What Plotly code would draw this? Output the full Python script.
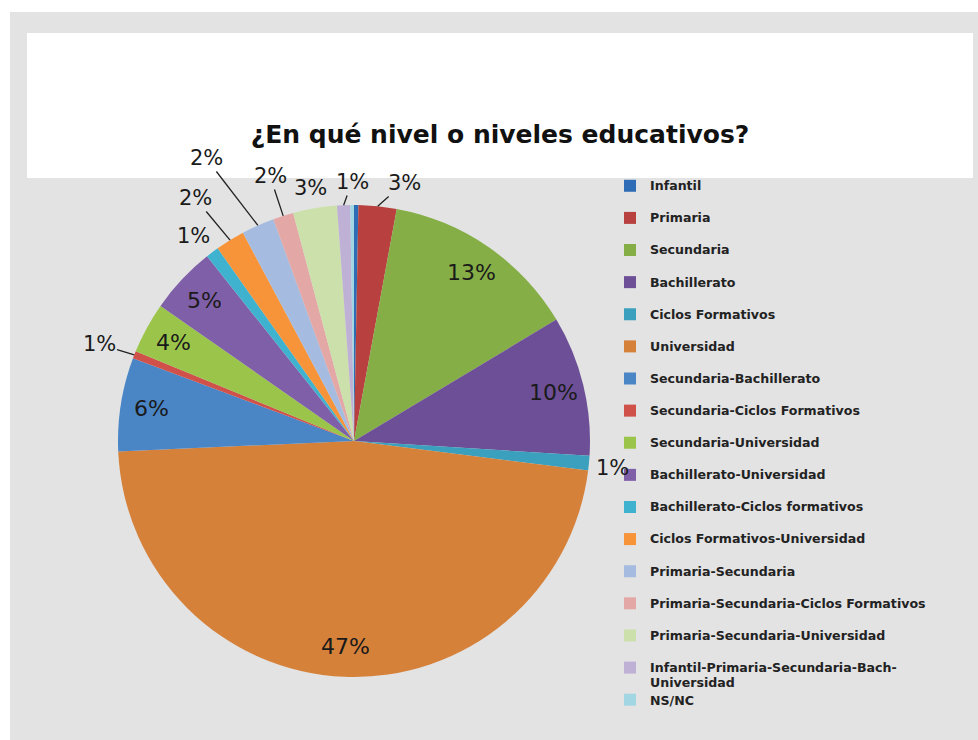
import math
import plotly.graph_objects as go

# ---------------- data ----------------
categories = [
    "Infantil", "Primaria", "Secundaria", "Bachillerato", "Ciclos Formativos",
    "Universidad", "Secundaria-Bachillerato", "Secundaria-Ciclos Formativos",
    "Secundaria-Universidad", "Bachillerato-Universidad",
    "Bachillerato-Ciclos formativos", "Ciclos Formativos-Universidad",
    "Primaria-Secundaria", "Primaria-Secundaria-Ciclos Formativos",
    "Primaria-Secundaria-Universidad",
    "Infantil-Primaria-Secundaria-Bach-Universidad", "NS/NC",
]
values = [0.3, 2.6, 13.5, 9.6, 1.0, 47.3, 6.4, 0.5, 3.5, 4.6, 0.9, 2.0,
          2.25, 1.4, 3.0, 0.9, 0.25]
pct_labels = ["", "3%", "13%", "10%", "1%", "47%", "6%", "1%", "4%", "5%",
              "1%", "2%", "2%", "2%", "3%", "1%", ""]
colors = ["#2E6DB5", "#B8413F", "#85AE46", "#6C4F96", "#3AA0BD", "#D5813A",
          "#4A85C6", "#D0504A", "#9BC54A", "#7F5FA8", "#3FB2D0", "#F7943A",
          "#A5BCE0", "#E3A8A6", "#CCE0AB", "#BFB0D6", "#A3D6E3"]
title_text = "¿En qué nivel o niveles educativos?"

# ---------------- layout constants ----------------
W, H = 978, 740
CX, CY, R = 354, 441, 236          # pie centre / radius in pixels
INSIDE_FRAC = 0.87
inside_set = {"Secundaria", "Bachillerato", "Universidad",
              "Secundaria-Bachillerato", "Secundaria-Universidad",
              "Bachillerato-Universidad"}
# where the outside labels sit (pixel centres) and whether they get a leader
outside_pos = {
    "Primaria": (404, 183, True),
    "Ciclos Formativos": (612, 468, False),
    "Secundaria-Ciclos Formativos": (99, 344, True),
    "Bachillerato-Ciclos formativos": (193, 236, False),
    "Ciclos Formativos-Universidad": (195, 198, True),
    "Primaria-Secundaria": (206, 158, True),
    "Primaria-Secundaria-Ciclos Formativos": (270, 176, True),
    "Primaria-Secundaria-Universidad": (310, 188, False),
    "Infantil-Primaria-Secundaria-Bach-Universidad": (352, 182, True),
}
LABEL_FONT = dict(family="DejaVu Sans", size=21, color="#1a1a1a")
INSIDE_FONT = dict(family="DejaVu Sans", size=22, color="#1a1a1a")


def legend_label(name):
    span = "<span style='font-size:12.6px'><b>%s</b></span>"
    if name == "NS/NC":
        return span % name
    if len(name) > 40:
        a, b = name.rsplit("-", 1)
        return span % (a + "-") + "<br>" + span % b
    return span % name + "<br> "


pie_labels = [legend_label(c) for c in categories]

fig = go.Figure(go.Pie(
    labels=pie_labels,
    values=values,
    textinfo="none",
    sort=False,
    direction="clockwise",
    rotation=0,
    marker=dict(colors=colors, line=dict(width=0)),
    domain=dict(x=[(CX - R) / W, (CX + R) / W],
                y=[1 - (CY + R) / H, 1 - (CY - R) / H]),
    hoverinfo="label+percent",
))

# ---------------- percentage labels, placed from the slice angles ----------
total = sum(values)
annotations = []
cum = 0.0
for cat, v, lab in zip(categories, values, pct_labels):
    mid = math.radians(360.0 * (cum + v / 2.0) / total)
    cum += v
    if not lab:
        continue
    if cat in inside_set:
        px_ = CX + INSIDE_FRAC * R * math.sin(mid)
        py_ = CY - INSIDE_FRAC * R * math.cos(mid)
        annotations.append(dict(
            x=px_ / W, y=1 - py_ / H, xref="paper", yref="paper",
            xanchor="center", yanchor="middle",
            text=lab, showarrow=False, font=INSIDE_FONT))
    else:
        ax_px = CX + R * math.sin(mid)
        ay_px = CY - R * math.cos(mid)
        tx, ty, leader = outside_pos[cat]
        if leader:
            annotations.append(dict(
                x=ax_px / W, y=1 - ay_px / H, xref="paper", yref="paper",
                ax=tx - ax_px, ay=ty - ay_px, text=lab, showarrow=True,
                arrowhead=0, arrowwidth=1.3, arrowcolor="#222222", standoff=0,
                font=LABEL_FONT))
        else:
            annotations.append(dict(
                x=tx / W, y=1 - ty / H, xref="paper", yref="paper",
                xanchor="center", yanchor="middle",
                text=lab, showarrow=False, font=LABEL_FONT))


def rect(x0, y0, x1, y1, color):
    return dict(type="rect", xref="paper", yref="paper", layer="below",
                x0=x0 / W, x1=x1 / W, y0=1 - y1 / H, y1=1 - y0 / H,
                fillcolor=color, line=dict(width=0))


fig.update_layout(
    width=W, height=H,
    margin=dict(l=0, r=0, t=0, b=0),
    paper_bgcolor="white",
    plot_bgcolor="white",
    shapes=[rect(10, 12, 978, 740, "#E3E3E3"), rect(27, 33, 973, 178, "white")],
    annotations=annotations,
    title=dict(text="<b>" + title_text + "</b>", x=500 / W, xanchor="center",
               y=1 - 134 / H, yanchor="middle",
               font=dict(family="DejaVu Sans", size=25, color="#111111")),
    legend=dict(x=610 / W, xanchor="left", y=1 - 172 / H, yanchor="top",
                valign="top", bgcolor="rgba(0,0,0,0)",
                font=dict(family="DejaVu Sans", size=11.2, color="#222222"),
                traceorder="normal"),
    showlegend=True,
)

fig.write_html("out.html")
